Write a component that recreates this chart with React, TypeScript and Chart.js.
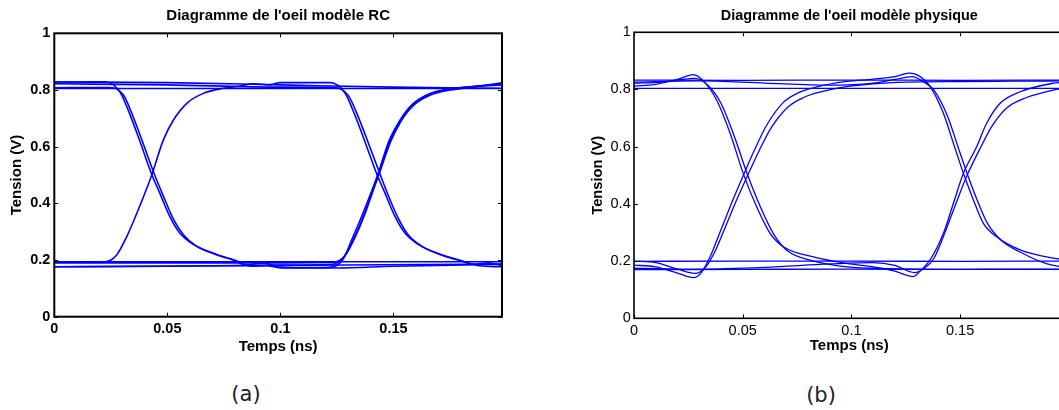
import React, { useEffect, useRef } from 'react';
import { Chart, registerables } from 'chart.js';

Chart.register(...registerables);

type Pt = [number, number];

// ---------- shared axis data ----------
const xTickValues = [0, 0.05, 0.1, 0.15];
const yTickValues = [0, 0.2, 0.4, 0.6, 0.8, 1];
const xMax = 0.198;

const rcTitle = "Diagramme de l'oeil modèle RC";
const physTitle = "Diagramme de l'oeil modèle physique";
const xAxisTitle = 'Temps (ns)';
const yAxisTitle = 'Tension (V)';
const captionA = '(a)';
const captionB = '(b)';

// ---------- (a) RC model traces (time ns, voltage V) ----------
const rcHighLowHigh: Pt[] = [
  [0, 0.828], [0.0224, 0.829], [0.0291, 0.792], [0.0335, 0.712], [0.0379, 0.618], [0.0431, 0.502],
  [0.0466, 0.437], [0.051, 0.355], [0.0554, 0.296], [0.0615, 0.255], [0.0704, 0.224], [0.0792, 0.2],
  [0.085, 0.182], [0.092, 0.19], [0.1, 0.175], [0.115, 0.173], [0.1225, 0.175], [0.1275, 0.2],
  [0.132, 0.28], [0.1365, 0.365], [0.143, 0.5], [0.148, 0.62], [0.1527, 0.69], [0.1586, 0.75],
  [0.166, 0.786], [0.175, 0.803], [0.185, 0.812], [0.198, 0.818],
];
const rcHighLowLow: Pt[] = [
  [0, 0.808], [0.0238, 0.809], [0.0305, 0.783], [0.035, 0.703], [0.0395, 0.607], [0.0444, 0.5],
  [0.048, 0.43], [0.0525, 0.347], [0.057, 0.29], [0.063, 0.248], [0.072, 0.218], [0.081, 0.196],
  [0.087, 0.178], [0.094, 0.18], [0.1, 0.172], [0.125, 0.172], [0.15, 0.178], [0.198, 0.185],
];
const rcLowHighLow: Pt[] = [
  [0, 0.194], [0.0224, 0.194], [0.0276, 0.218], [0.032, 0.282], [0.0365, 0.365], [0.0431, 0.5],
  [0.0482, 0.623], [0.0527, 0.694], [0.0586, 0.753], [0.0659, 0.788], [0.0748, 0.806], [0.0822, 0.814],
  [0.088, 0.822], [0.095, 0.818], [0.1, 0.826], [0.122, 0.826], [0.1285, 0.79], [0.133, 0.71],
  [0.1375, 0.615], [0.1427, 0.502], [0.1462, 0.437], [0.1506, 0.355], [0.155, 0.296], [0.161, 0.255],
  [0.17, 0.222], [0.179, 0.2], [0.186, 0.185], [0.192, 0.19], [0.198, 0.18],
];
const rcHighHighLow: Pt[] = [
  [0, 0.822], [0.05, 0.818], [0.1, 0.81], [0.1236, 0.809], [0.13, 0.781], [0.1347, 0.7],
  [0.1393, 0.604], [0.1442, 0.5], [0.1477, 0.428], [0.1522, 0.346], [0.1566, 0.288], [0.1626, 0.248],
  [0.1718, 0.216], [0.181, 0.195], [0.188, 0.18], [0.198, 0.176],
];
const rcLowLowHighA: Pt[] = [
  [0, 0.176], [0.05, 0.178], [0.1, 0.182], [0.123, 0.185], [0.128, 0.21], [0.1325, 0.275],
  [0.137, 0.36], [0.1435, 0.5], [0.1487, 0.617], [0.1532, 0.688], [0.1591, 0.747], [0.1664, 0.782],
  [0.1753, 0.8], [0.185, 0.81], [0.198, 0.825],
];
const rcLowLowHighB: Pt[] = [
  [0, 0.19], [0.1, 0.19], [0.1235, 0.192], [0.1285, 0.215], [0.133, 0.28], [0.1375, 0.365],
  [0.1432, 0.5], [0.1484, 0.622], [0.1529, 0.693], [0.1588, 0.752], [0.166, 0.787], [0.175, 0.804],
  [0.185, 0.812], [0.198, 0.82],
];
const rcHighFlatA: Pt[] = [[0, 0.828], [0.05, 0.826], [0.1, 0.818], [0.15, 0.81], [0.198, 0.806]];
const rcHighFlatB: Pt[] = [[0, 0.805], [0.198, 0.805]];
const rcLowFlatA: Pt[] = [[0, 0.194], [0.198, 0.194]];
const rcLowFlatB: Pt[] = [[0, 0.176], [0.198, 0.186]];

// ---------- (b) physical model traces ----------
const phFallRise: Pt[] = [
  [0, 0.812], [0.01, 0.818], [0.02, 0.835], [0.0273, 0.852], [0.0319, 0.83], [0.038, 0.763],
  [0.0442, 0.647], [0.0503, 0.505], [0.0564, 0.39], [0.0626, 0.297], [0.0687, 0.25], [0.0825, 0.215],
  [0.0978, 0.192], [0.11, 0.18], [0.12, 0.165], [0.1285, 0.146], [0.1316, 0.165], [0.1362, 0.204],
  [0.1423, 0.297], [0.1469, 0.402], [0.1515, 0.507], [0.1576, 0.6], [0.1622, 0.682], [0.1684, 0.752],
  [0.1776, 0.792], [0.1929, 0.822], [0.198, 0.826],
];
const phFallLow: Pt[] = [
  [0, 0.822], [0.012, 0.826], [0.022, 0.835], [0.028, 0.839], [0.0335, 0.818], [0.04, 0.752],
  [0.0462, 0.635], [0.0523, 0.5], [0.0584, 0.385], [0.0646, 0.29], [0.0707, 0.235], [0.0825, 0.2],
  [0.0978, 0.18], [0.11, 0.175], [0.125, 0.172], [0.15, 0.171], [0.175, 0.172], [0.198, 0.171],
];
const phRiseFall: Pt[] = [
  [0, 0.186], [0.01, 0.18], [0.02, 0.158], [0.0273, 0.142], [0.031, 0.16], [0.035, 0.215],
  [0.0395, 0.3], [0.045, 0.405], [0.0503, 0.5], [0.0555, 0.59], [0.061, 0.675], [0.0687, 0.755],
  [0.076, 0.79], [0.0825, 0.806], [0.0978, 0.828], [0.11, 0.836], [0.12, 0.845], [0.1265, 0.857],
  [0.1305, 0.85], [0.1362, 0.81], [0.1423, 0.717], [0.1469, 0.612], [0.1515, 0.507], [0.1561, 0.414],
  [0.1607, 0.332], [0.1668, 0.285], [0.1776, 0.239], [0.1929, 0.21], [0.198, 0.205],
];
const phRiseHigh: Pt[] = [
  [0, 0.2], [0.01, 0.195], [0.02, 0.172], [0.028, 0.157], [0.0325, 0.175], [0.037, 0.23],
  [0.0415, 0.31], [0.047, 0.41], [0.0523, 0.5], [0.0575, 0.585], [0.063, 0.665], [0.0707, 0.738],
  [0.078, 0.772], [0.085, 0.79], [0.0978, 0.81], [0.11, 0.82], [0.125, 0.826], [0.15, 0.828],
  [0.175, 0.829], [0.198, 0.83],
];
const phLowRise: Pt[] = [
  [0, 0.175], [0.03, 0.172], [0.06, 0.178], [0.09, 0.19], [0.11, 0.195], [0.12, 0.185],
  [0.129, 0.16], [0.1335, 0.175], [0.138, 0.21], [0.1425, 0.29], [0.148, 0.4], [0.1535, 0.505],
  [0.1596, 0.6], [0.1645, 0.67], [0.1714, 0.735], [0.1806, 0.772], [0.1929, 0.798], [0.198, 0.805],
];
const phHighFall: Pt[] = [
  [0, 0.826], [0.03, 0.83], [0.06, 0.822], [0.09, 0.815], [0.11, 0.822], [0.12, 0.835],
  [0.128, 0.845], [0.1325, 0.83], [0.1382, 0.795], [0.1443, 0.705], [0.149, 0.6], [0.1535, 0.5],
  [0.158, 0.41], [0.1627, 0.33], [0.169, 0.272], [0.178, 0.23], [0.19, 0.19], [0.198, 0.178],
];
const phHighFlatA: Pt[] = [[0, 0.833], [0.05, 0.832], [0.1, 0.833], [0.15, 0.832], [0.198, 0.833]];
const phHighFlatB: Pt[] = [[0, 0.804], [0.198, 0.804]];
const phLowFlatA: Pt[] = [[0, 0.199], [0.05, 0.2], [0.1, 0.2], [0.15, 0.199], [0.198, 0.2]];
const phLowFlatB: Pt[] = [[0, 0.17], [0.05, 0.171], [0.1, 0.172], [0.15, 0.171], [0.198, 0.171]];

const rcTraces = [rcHighLowHigh, rcHighLowLow, rcLowHighLow, rcHighHighLow, rcLowLowHighA, rcLowLowHighB,
  rcHighFlatA, rcHighFlatB, rcLowFlatA, rcLowFlatB];
const phTraces = [phFallRise, phFallLow, phRiseFall, phRiseHigh, phLowRise, phHighFall,
  phHighFlatA, phHighFlatB, phLowFlatA, phLowFlatB];

const FONT = "'Liberation Sans', Arial, Helvetica, sans-serif";
const LINE_COLOR = 'rgb(0,0,255)';

const boxPlugin = {
  id: 'matlabBox',
  afterDatasetsDraw(chart: any, _args: any, opts: any) {
    const { ctx, chartArea } = chart;
    const { left, right, top, bottom } = chartArea;
    const xs = chart.scales.x;
    const ys = chart.scales.y;
    const tl = opts.tickLength ?? 4;
    ctx.save();
    ctx.strokeStyle = '#000';
    ctx.lineWidth = opts.tickWidth ?? 1;
    ctx.beginPath();
    for (const t of xs.ticks) {
      const px = Math.round(xs.getPixelForValue(t.value)) + 0.5;
      ctx.moveTo(px, bottom); ctx.lineTo(px, bottom - tl);
      ctx.moveTo(px, top); ctx.lineTo(px, top + tl);
    }
    for (const t of ys.ticks) {
      const py = Math.round(ys.getPixelForValue(t.value)) + 0.5;
      ctx.moveTo(left, py); ctx.lineTo(left + tl, py);
      ctx.moveTo(right, py); ctx.lineTo(right - tl, py);
    }
    ctx.stroke();
    ctx.lineWidth = opts.lineWidth ?? 1.5;
    ctx.strokeRect(left, top, right - left, bottom - top);
    ctx.restore();
  },
};

type Spec = {
  traces: Pt[][];
  title: string;
  width: number;
  height: number;
  padLeft: number;
  padRight: number;
  yWidth: number;
  xHeight: number;
  titleSize: number;
  titlePadTop: number;
  titlePadBottom: number;
  tickSize: number;
  tickWeight: string;
  tickPad: number;
  xTickPad: number;
  yTitleSize: number;
  yTitlePad: number;
  xTitleSize: number;
  xTitlePad: number;
  lineWidth: number;
  boxWidth: number;
};

function EyeChart({ spec, left, top }: { spec: Spec; left: number; top: number }) {
  const ref = useRef<HTMLCanvasElement>(null);
  useEffect(() => {
    if (!ref.current) return;
    const tickFont = { family: FONT, size: spec.tickSize, weight: spec.tickWeight as any };
    const chart = new Chart(ref.current, {
      type: 'line',
      data: {
        datasets: spec.traces.map((t) => ({
          data: t.map(([x, y]) => ({ x, y })),
          borderColor: LINE_COLOR,
          borderWidth: spec.lineWidth,
          pointRadius: 0,
          cubicInterpolationMode: 'monotone' as const,
          fill: false,
        })),
      },
      options: {
        responsive: false,
        animation: false,
        devicePixelRatio: 1,
        events: [],
        layout: { padding: { left: spec.padLeft, right: spec.padRight, top: 0, bottom: 0 } },
        plugins: {
          legend: { display: false },
          tooltip: { enabled: false },
          title: {
            display: true,
            text: spec.title,
            fullSize: false,
            color: '#000',
            font: { family: FONT, size: spec.titleSize, weight: 'bold', lineHeight: 1.2 },
            padding: { top: spec.titlePadTop, bottom: spec.titlePadBottom },
          },
          matlabBox: { lineWidth: spec.boxWidth, tickLength: 4, tickWidth: 1 },
        } as any,
        scales: {
          x: {
            type: 'linear',
            min: 0,
            max: xMax,
            afterBuildTicks: (s: any) => { s.ticks = xTickValues.map((v) => ({ value: v })); },
            afterFit: (s: any) => { s.height = spec.xHeight; },
            grid: { display: false, drawTicks: false },
            border: { display: false },
            ticks: {
              color: '#000', font: tickFont, padding: spec.xTickPad, maxRotation: 0, autoSkip: false,
              callback: (v: any) => String(v),
            },
            title: {
              display: true, text: xAxisTitle, color: '#000',
              font: { family: FONT, size: spec.xTitleSize, weight: 'bold', lineHeight: 1.2 },
              padding: { top: 0, bottom: spec.xTitlePad },
            },
          },
          y: {
            type: 'linear',
            min: 0,
            max: 1,
            afterBuildTicks: (s: any) => { s.ticks = yTickValues.map((v) => ({ value: v })); },
            afterFit: (s: any) => { s.width = spec.yWidth; },
            grid: { display: false, drawTicks: false },
            border: { display: false },
            ticks: {
              color: '#000', font: tickFont, padding: spec.tickPad, autoSkip: false,
              callback: (v: any) => String(v),
            },
            title: {
              display: true, text: yAxisTitle, color: '#000',
              font: { family: FONT, size: spec.yTitleSize, weight: 'bold', lineHeight: 1.2 },
              padding: { top: spec.yTitlePad, bottom: 0 },
            },
          },
        },
      },
      plugins: [boxPlugin as any],
    });
    return () => chart.destroy();
  }, [spec]);
  return (
    <canvas
      ref={ref}
      width={spec.width}
      height={spec.height}
      style={{ position: 'absolute', left, top, width: spec.width, height: spec.height }}
    />
  );
}

const specA: Spec = {
  traces: rcTraces,
  title: rcTitle,
  width: 520,
  height: 360,
  padLeft: 0,
  padRight: 18,
  yWidth: 54.3,
  xHeight: 43.3,
  titleSize: 15,
  titlePadTop: 6.5,
  titlePadBottom: 8.8,
  tickSize: 14.5,
  tickWeight: 'bold',
  tickPad: 4,
  xTickPad: 4,
  yTitleSize: 15,
  yTitlePad: 7.7,
  xTitleSize: 15,
  xTitlePad: 4.5,
  lineWidth: 1.6,
  boxWidth: 2,
};

const specB: Spec = {
  traces: phTraces,
  title: physTitle,
  width: 545,
  height: 360,
  padLeft: 50,
  padRight: 10.5,
  yWidth: 54,
  xHeight: 41.7,
  titleSize: 14.4,
  titlePadTop: 6.9,
  titlePadBottom: 8.1,
  tickSize: 14.5,
  tickWeight: 'normal',
  tickPad: 3.3,
  xTickPad: 4,
  yTitleSize: 14.7,
  yTitlePad: 8.7,
  xTitleSize: 15,
  xTitlePad: 5,
  lineWidth: 1.3,
  boxWidth: 1.6,
};

const captionStyle: React.CSSProperties = {
  position: 'absolute',
  fontFamily: "'DejaVu Sans', 'Open Sans', sans-serif",
  fontSize: 21,
  lineHeight: '24px',
  color: '#222',
  transform: 'translate(-50%, -50%)',
  whiteSpace: 'nowrap',
};

export default function App() {
  return (
    <div
      style={{
        position: 'fixed', left: 0, top: 0, width: 1059, height: 410,
        overflow: 'hidden', background: '#fff',
      }}
    >
      <EyeChart spec={specA} left={0} top={0} />
      <EyeChart spec={specB} left={530} top={0} />
      <div style={{ ...captionStyle, left: 246, top: 394 }}>{captionA}</div>
      <div style={{ ...captionStyle, left: 821, top: 395 }}>{captionB}</div>
    </div>
  );
}
